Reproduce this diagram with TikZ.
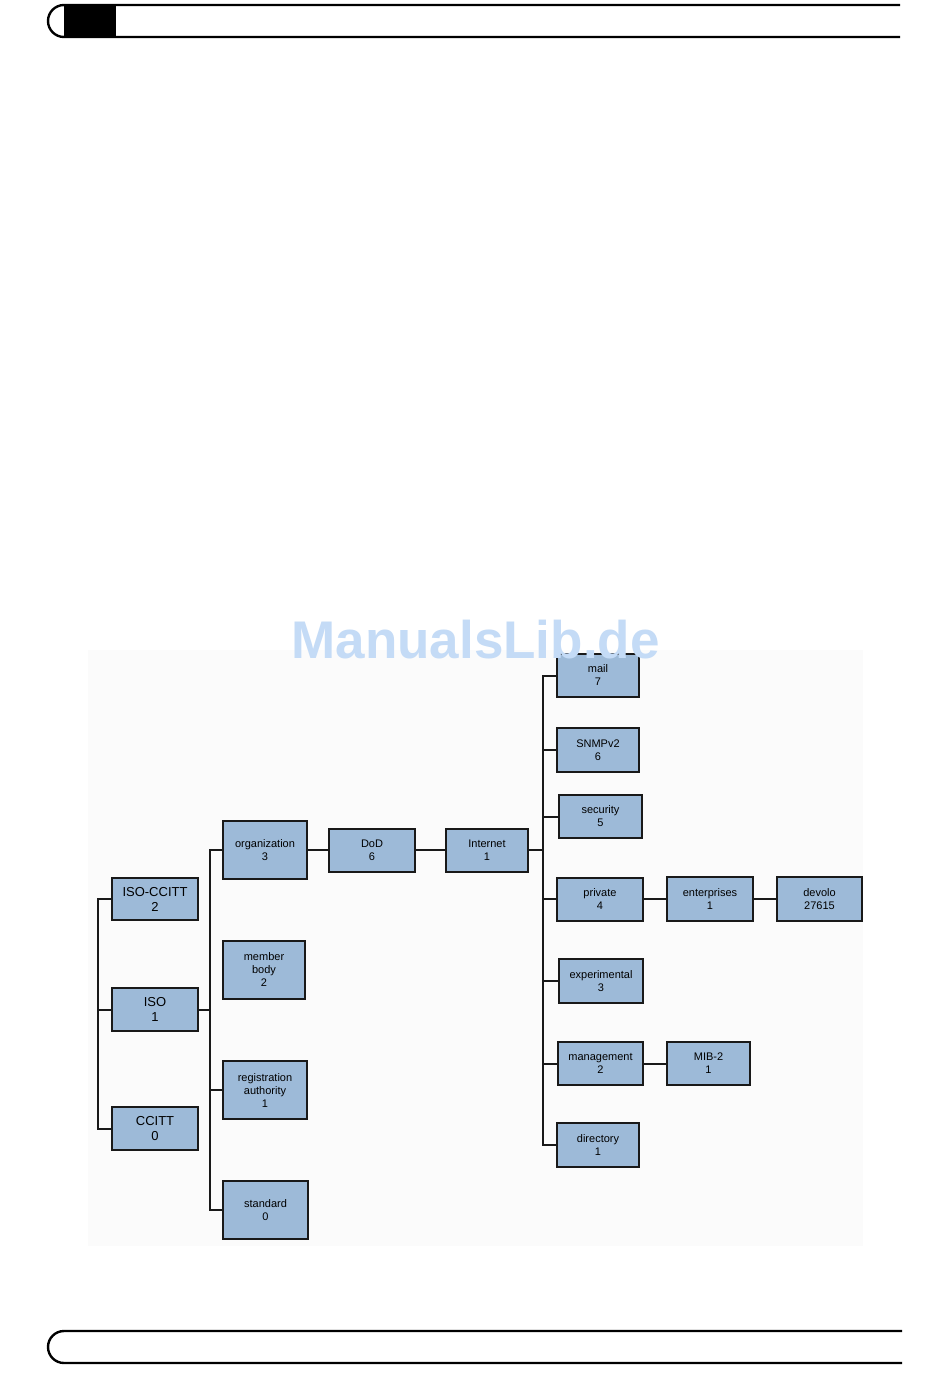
\documentclass[tikz,border=0pt]{standalone}
\usepackage{fontspec}
\setmainfont{Liberation Sans}
\definecolor{boxfill}{RGB}{157,186,216}
\definecolor{boxline}{RGB}{25,25,25}
\definecolor{wmark}{RGB}{196,219,246}
\definecolor{bgpanel}{RGB}{251,251,251}
\begin{document}
\begin{tikzpicture}[x=1pt,y=-1pt,
  oid/.style={draw=boxline,fill=boxfill,line width=2pt,inner sep=0pt,align=center,
    font=\fontsize{11}{13}\selectfont},
  oidbig/.style={oid,font=\fontsize{13}{15}\selectfont},
  conn/.style={draw=boxline,line width=2pt},
  frame/.style={draw=black,line width=2.4pt}]
\useasboundingbox (0,0) rectangle (950,1387);
\fill[white] (0,0) rectangle (950,1387);
% header
\fill[black] (64,5) rectangle (116,37);
\draw[frame] (900,5) -- (64,5) arc[start angle=270,end angle=90,radius=16] -- (900,37);
% footer
\draw[frame] (902,1331) -- (64,1331) arc[start angle=270,end angle=90,radius=16] -- (902,1363);
% panel
\fill[bgpanel] (88,650) rectangle (863,1246);
% nodes
\newcommand{\oidbox}[6]{\node[#1,minimum width=#4pt,minimum height=#5pt] (#2) at #3 {#6};}
\oidbox{oidbig}{isoccitt}{(155,899)}{86}{42}{ISO-CCITT\\2}
\oidbox{oidbig}{iso}{(155,1009.5)}{86}{43}{ISO\\1}
\oidbox{oidbig}{ccitt}{(155,1128.5)}{86}{43}{CCITT\\0}
\oidbox{oid}{org}{(265,850)}{84}{58}{organization\\3}
\oidbox{oid}{member}{(264,970)}{82}{58}{member\\body\\2}
\oidbox{oid}{reg}{(265,1090)}{84}{58}{registration\\authority\\1}
\oidbox{oid}{std}{(265.5,1210)}{85}{58}{standard\\0}
\oidbox{oid}{dod}{(372,850)}{86}{43}{DoD\\6}
\oidbox{oid}{internet}{(487,850)}{82}{43}{Internet\\1}
\oidbox{oid}{mail}{(598,675.5)}{82}{43}{mail\\7}
\oidbox{oid}{snmp}{(598,750)}{82}{44}{SNMPv2\\6}
\oidbox{oid}{security}{(600.5,816.5)}{83}{43}{security\\5}
\oidbox{oid}{private}{(600,899)}{86}{43}{private\\4}
\oidbox{oid}{enterprises}{(710,899)}{86}{44}{enterprises\\1}
\oidbox{oid}{devolo}{(819.5,899)}{85}{44}{devolo\\27615}
\oidbox{oid}{experimental}{(601,981)}{84}{44}{experimental\\3}
\oidbox{oid}{management}{(600.5,1063.5)}{85}{43}{management\\2}
\oidbox{oid}{mib}{(708.5,1063.5)}{83}{43}{MIB-2\\1}
\oidbox{oid}{directory}{(598,1145)}{82}{44}{directory\\1}
% buses
\coordinate (busa) at (98,0);
\coordinate (busb) at (210,0);
\coordinate (busc) at (543,0);
\draw[conn] (isoccitt.west) -- (isoccitt.west -| busa) -- (ccitt.west -| busa) -- (ccitt.west);
\draw[conn] (iso.west) -- (iso.west -| busa);
\draw[conn] (iso.east) -- (iso.east -| busb);
\draw[conn] (org.west) -- (org.west -| busb) -- (std.west -| busb) -- (std.west);
\draw[conn] (reg.west) -- (reg.west -| busb);
\draw[conn] (org.east) -- (dod.west);
\draw[conn] (dod.east) -- (internet.west);
\draw[conn] (internet.east) -- (internet.east -| busc);
\draw[conn] (mail.west) -- (mail.west -| busc) -- (directory.west -| busc) -- (directory.west);
\draw[conn] (snmp.west) -- (snmp.west -| busc);
\draw[conn] (security.west) -- (security.west -| busc);
\draw[conn] (private.west) -- (private.west -| busc);
\draw[conn] (experimental.west) -- (experimental.west -| busc);
\draw[conn] (management.west) -- (management.west -| busc);
\draw[conn] (private.east) -- (enterprises.west);
\draw[conn] (enterprises.east) -- (devolo.west);
\draw[conn] (management.east) -- (mib.west);
% watermark
\node[anchor=base,text=wmark,inner sep=0pt,font=\fontsize{53}{60}\bfseries\selectfont] (wm) at (475.5,658) {ManualsLib.de};
\end{tikzpicture}
\end{document}
